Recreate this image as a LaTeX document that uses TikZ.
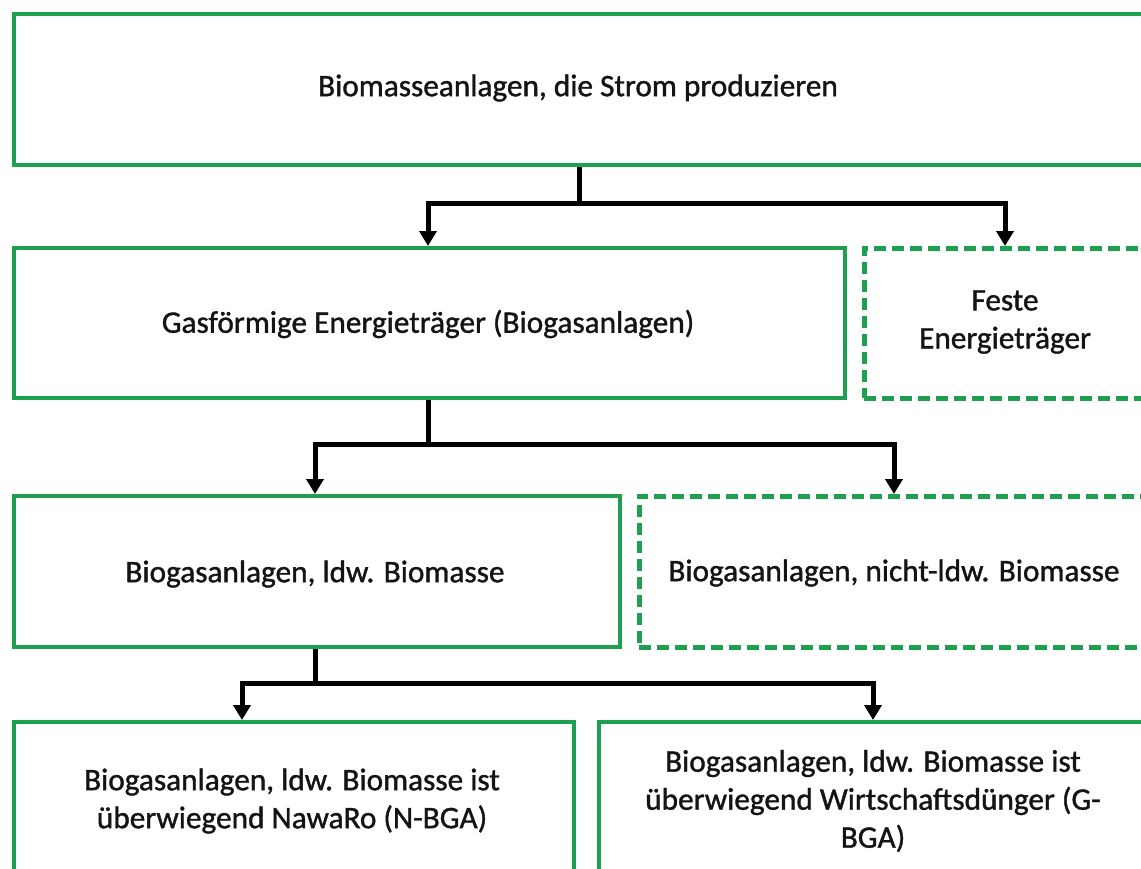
\documentclass[tikz,border=0pt]{standalone}
\usepackage{fontspec}
\setmainfont{Carlito}
\newfontfamily\semibold[FakeBold=1.2]{Carlito}
\usetikzlibrary{arrows.meta}
\definecolor{boxgreen}{RGB}{30,160,80}
\tikzset{
  box/.style={draw=boxgreen, line width=4pt, fill=white, inner sep=0pt},
  dbox/.style={box, line width=4.5pt, dash pattern=on 12pt off 6pt},
  txt/.style={font=\semibold\fontsize{31.3pt}{38pt}\selectfont, align=center, inner sep=0pt, text=black!92},
  conn/.style={line width=5pt, draw=black},
  arr/.style={conn, -{Triangle[width=17pt,length=15pt]}}
}
\begin{document}
\begin{tikzpicture}[x=1pt,y=-1pt]
\useasboundingbox (0,0) rectangle (1141,868);
\fill[white] (0,0) rectangle (1141,868);
\clip (0,0) rectangle (1141,868);
% boxes
\node[box, minimum width=1136pt, minimum height=151pt, anchor=north west] (b1) at (12,12) {};
\node[box, minimum width=831pt, minimum height=150pt, anchor=north west] (b2) at (12,246) {};
\node[dbox, minimum width=287pt, minimum height=150pt, anchor=north west] (b2f) at (862,246) {};
\node[box, minimum width=606pt, minimum height=151pt, anchor=north west] (b3) at (12,494) {};
\node[dbox, minimum width=514pt, minimum height=151pt, anchor=north west] (b3n) at (637,494) {};
\node[box, minimum width=560pt, minimum height=170pt, anchor=north west] (b4) at (12,720) {};
\node[box, minimum width=552pt, minimum height=170pt, anchor=north west] (b5) at (597,720) {};
% texts
\node[txt] (t1) at (578,88) {Biomasseanlagen, die Strom produzieren};
\node[txt] (t2) at (428,324) {Gasförmige Energieträger (Biogasanlagen)};
\node[txt] (t2f) at (1005,322) {Feste\\Energieträger};
\node[txt] (t3) at (315,574) {Biogasanlagen, ldw. Biomasse};
\node[txt] (t3n) at (894,573) {Biogasanlagen, nicht-ldw. Biomasse};
\node[txt] (t4) at (292,801) {Biogasanlagen, ldw. Biomasse ist\\überwiegend NawaRo (N-BGA)};
\node[txt] (t5) at (873,801) {Biogasanlagen, ldw. Biomasse ist\\überwiegend Wirtschaftsdünger (G-\\BGA)};
% connectors
\coordinate (j1) at (579,203);
\draw[conn] (b1.south -| j1) -- (j1);
\draw[arr] (j1) -| (428,0 |- b2.north);
\draw[arr] (j1) -| (1005,0 |- b2f.north);
\coordinate (j2) at (428,444);
\draw[conn] (b2.south -| j2) -- (j2);
\draw[arr] (j2) -| (315,0 |- b3.north);
\draw[arr] (j2) -| (894,0 |- b3n.north);
\coordinate (j3) at (315,683);
\draw[conn] (b3.south -| j3) -- (j3);
\draw[arr] (j3) -| (242,0 |- b4.north);
\draw[arr] (j3) -| (873,0 |- b5.north);
\end{tikzpicture}
\end{document}
